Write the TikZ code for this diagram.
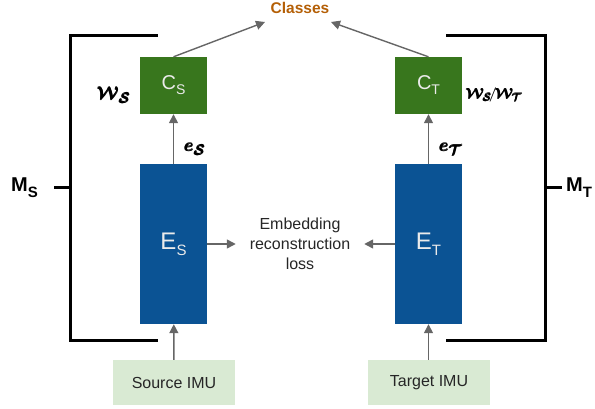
\documentclass[tikz,border=0pt]{standalone}
\usepackage{amsmath,amssymb}
\usepackage{fontspec}
\setmainfont{Liberation Sans}
\usetikzlibrary{arrows.meta}

\definecolor{clsgreen}{HTML}{38761D}
\definecolor{encblue}{HTML}{0B5394}
\definecolor{imugreen}{HTML}{D9EAD3}
\definecolor{clsorange}{HTML}{B45F06}
\definecolor{arrgray}{HTML}{666666}

\newcommand{\heavy}[1]{\pmb{#1}}

\begin{document}
\begin{tikzpicture}[x=1pt,y=1pt,
    clsbox/.style={fill=clsgreen,minimum width=67pt,minimum height=57pt,inner sep=0pt,text=white!92!black},
    encbox/.style={fill=encblue,minimum width=67pt,minimum height=160pt,inner sep=0pt,text=white!92!black},
    imubox/.style={fill=imugreen,minimum width=122pt,minimum height=45pt,inner sep=0pt,font=\fontsize{16}{18}\selectfont,text=black!85},
    mathlabel/.style={font=\fontsize{19}{19}\selectfont\boldmath,inner sep=0pt},
    flow/.style={-{Triangle[length=9pt,width=9pt]},draw=arrgray,line width=1.4pt},
    bracket/.style={line width=3pt,line cap=rect}]
      \useasboundingbox (0, 0) rectangle (595, 408);
      % blocks
      \node[clsbox] (cs) at (173.5, 322.5) {\fontsize{20}{20}\selectfont C\raisebox{-5pt}{\fontsize{14}{14}\selectfont S}};
      \node[encbox] (es) at (173.5, 164) {\fontsize{24}{24}\selectfont E\raisebox{-6pt}{\fontsize{15}{15}\selectfont S}};
      \node[clsbox] (ct) at (428.5, 322.5) {\fontsize{20}{20}\selectfont C\raisebox{-5pt}{\fontsize{14}{14}\selectfont T}};
      \node[encbox] (et) at (428.5, 164) {\fontsize{24}{24}\selectfont E\raisebox{-6pt}{\fontsize{15}{15}\selectfont T}};
      \node[imubox] (src) at (174, 25.5) {Source IMU};
      \node[imubox] (tgt) at (429, 25.5) {Target IMU};
      \node[align=center,font=\fontsize{16}{20}\selectfont,text=black!85,inner sep=0pt,outer sep=14pt] (loss) at (300, 164) {Embedding\\reconstruction\\loss};
      \node[font=\bfseries\fontsize{15.5}{16}\selectfont,text=clsorange] (cls) at (300, 400) {Classes};
      % labels
      \node[mathlabel] (ws) at (114, 313) {$\heavy{\mathcal{W}}_{\heavy{\mathcal{S}}}$};
      \node[mathlabel,font=\fontsize{15}{15}\selectfont\boldmath,anchor=west] (wt) at (466, 313) {$\heavy{\mathcal{W}}_{\mkern-2mu\heavy{\mathcal{S}}}\mkern-3mu/\mkern-2mu\heavy{\mathcal{W}}_{\mkern-2mu\heavy{\mathcal{T}}}$};
      \node[mathlabel] (esl) at (195, 259) {$\heavy{e}_{\heavy{\mathcal{S}}}$};
      \node[mathlabel] (etl) at (451, 259) {$\heavy{e}_{\heavy{\mathcal{T}}}$};
      \node[font=\bfseries\fontsize{20}{20}\selectfont,anchor=west,inner sep=0pt] (ms) at (11, 220) {M\raisebox{-6pt}{\fontsize{15}{15}\selectfont S}};
      \node[font=\bfseries\fontsize{20}{20}\selectfont,anchor=west,inner sep=0pt] (mt) at (566, 220) {M\raisebox{-6pt}{\fontsize{15}{15}\selectfont T}};
      % brackets
      \coordinate (lb) at (70, 221);
      \coordinate (rb) at (545, 221);
      \draw[bracket] (156, 372) -- (70, 372) -- (70, 68) -- (156, 68);
      \draw[bracket] (lb) -- ++(-15, 0);
      \draw[bracket] (447, 372) -- (545, 372) -- (545, 68) -- (447, 68);
      \draw[bracket] (rb) -- ++(15, 0);
      % arrows
      \coordinate (csout) at (265, 386);
      \coordinate (ctout) at (331, 386);
      \draw[flow] (src) -- (es);
      \draw[flow] (tgt.north -| et) -- (et);
      \draw[flow] (es) -- (cs);
      \draw[flow] (et) -- (ct);
      \draw[flow] (es.east) -- (loss.west);
      \draw[flow] (et.west) -- (loss.east);
      \draw[flow] (cs.north) -- (csout);
      \draw[flow] (ct.north) -- (ctout);
    \end{tikzpicture}
\end{document}
